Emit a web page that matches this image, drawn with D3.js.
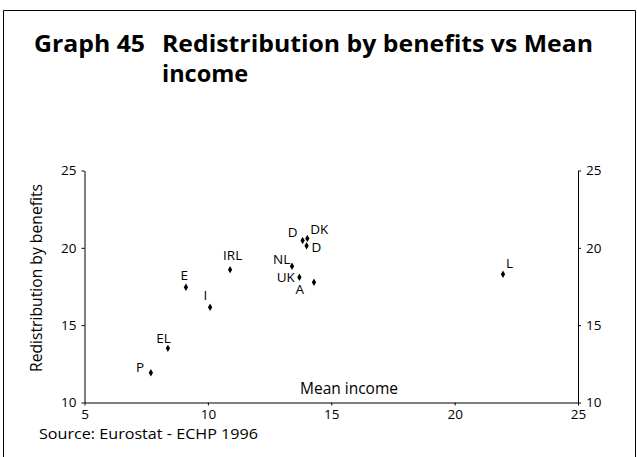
<!DOCTYPE html>
<html><head><meta charset="utf-8">
<script src="https://cdn.jsdelivr.net/npm/d3@7"></script>
<style>html,body{margin:0;padding:0;background:#fff;} svg{display:block;}</style>
</head><body>
<script>
const countries = ["P","EL","E","I","IRL","NL","UK","A","D","DK","D","L"];
const meanIncome = [7.69,8.38,9.11,10.09,10.90,13.41,13.71,14.30,13.84,14.03,14.00,21.96];
const redistribution = [11.92,13.50,17.45,16.16,18.59,18.81,18.10,17.77,20.48,20.61,20.14,18.29];
const xTicks = [5,10,15,20,25];
const yTicks = [10,15,20,25];
// label offsets (pixels) relative to each point
const labelDx = [-10.7,-4.4,-1.7,-4.7,2.6,-10.3,-13.7,-14.3,-10,12,9.8,6.6];
const labelDy = [-1,-5,-7,-7.7,-10,-2.7,4.5,12,-3.3,-4.3,6.4,-6.3];

const W=637,H=457;
const svg=d3.select("body").append("svg").attr("width",W).attr("height",H);
const font="'Open Sans', 'DejaVu Sans', sans-serif";

// frame
svg.append("path").attr("d",`M3.5,${H} V10.5 H635.5 V${H}`).attr("fill","none").attr("stroke","#000").attr("stroke-width",1);

// title
svg.append("text").attr("x",34).attr("y",52).attr("font-family",font).attr("font-weight",700)
  .attr("font-size",23.5).attr("textLength",111).attr("lengthAdjust","spacingAndGlyphs").text("Graph 45");
svg.append("text").attr("x",162).attr("y",52).attr("font-family",font).attr("font-weight",700)
  .attr("font-size",23.5).attr("textLength",431).attr("lengthAdjust","spacingAndGlyphs")
  .text("Redistribution by benefits vs Mean");
svg.append("text").attr("x",162).attr("y",81.5).attr("font-family",font).attr("font-weight",700)
  .attr("font-size",23.5).text("income");

const x=d3.scaleLinear().domain([5,25]).range([84.5,578]);
const y=d3.scaleLinear().domain([10,25]).range([402.5,170.5]);

const g=svg.append("g");
const styleAxis=sel=>{sel.selectAll("path,line").attr("stroke","#000");
  sel.selectAll("text").attr("font-family",font).attr("font-size",13.5).attr("fill","#000");};

g.append("g").attr("transform",`translate(0,${y(10)})`)
 .call(d3.axisBottom(x).tickValues(xTicks).tickSize(3).tickSizeOuter(0).tickPadding(4)).call(styleAxis);
g.append("g").attr("transform",`translate(${x(5)},0)`)
 .call(d3.axisLeft(y).tickValues(yTicks).tickSize(3).tickSizeOuter(0).tickPadding(5)).call(styleAxis);
g.append("g").attr("transform",`translate(${x(25)},0)`)
 .call(d3.axisRight(y).tickValues(yTicks).tickSize(3).tickSizeOuter(0).tickPadding(5)).call(styleAxis);

// axis titles
svg.append("text").attr("transform",`translate(42,278) rotate(-90)`)
  .attr("text-anchor","middle").attr("font-family",font).attr("font-size",15.5)
  .attr("textLength",188).attr("lengthAdjust","spacingAndGlyphs").text("Redistribution by benefits");
svg.append("text").attr("x",349).attr("y",393.5).attr("text-anchor","middle")
  .attr("font-family",font).attr("font-size",15.5).text("Mean income");

// source
svg.append("text").attr("x",39).attr("y",439).attr("font-family",font).attr("font-size",15)
  .attr("textLength",219).attr("lengthAdjust","spacingAndGlyphs")
  .text("Source: Eurostat - ECHP 1996");

// points
const data=countries.map((c,i)=>({c,x:meanIncome[i],y:redistribution[i],dx:labelDx[i],dy:labelDy[i]}));
const diamond=d3.symbol().type(d3.symbolDiamond).size(16);
g.selectAll("path.pt").data(data).join("path").attr("class","pt")
 .attr("transform",d=>`translate(${x(d.x)},${y(d.y)})`).attr("d",diamond).attr("fill","#000");
g.selectAll("text.lb").data(data).join("text").attr("class","lb")
 .attr("x",d=>x(d.x)+d.dx).attr("y",d=>y(d.y)+d.dy).attr("text-anchor","middle")
 .attr("font-family",font).attr("font-size",13.5).text(d=>d.c);
</script>
</body></html>
